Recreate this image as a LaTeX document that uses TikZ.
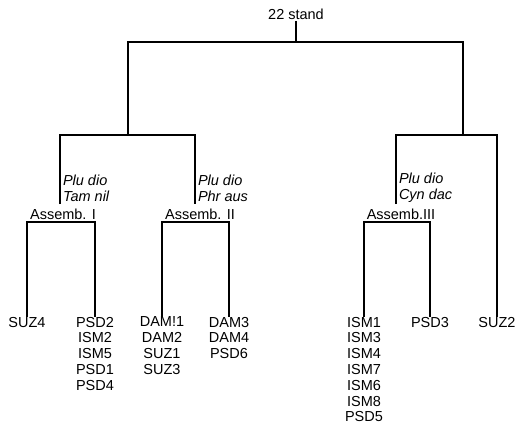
\documentclass[tikz,border=0pt]{standalone}
\usepackage{fontspec}
\setmainfont{Liberation Sans}
\begin{document}
\begin{tikzpicture}[x=1pt,y=-1pt,
  every node/.style={font=\fontsize{14.5}{15.8}\selectfont, inner sep=0pt, outer sep=0pt},
  lab/.style={align=center},
  leaf/.style={align=center, anchor=north},
  tax/.style={align=left, anchor=west, font=\fontsize{14.5}{15.8}\selectfont\itshape},
  edge/.style={draw=black, line width=1.2pt}]
\useasboundingbox (0,0) rectangle (518,426);
% root
\node[lab, outer sep=1.5pt] (root) at (296,14) {22 stand};
\coordinate (top) at (296,42);
\coordinate (jA) at (128,135);
\coordinate (jB) at (463,135);
% assemblages
\node[lab] (asI) at (63,214) {Assemb. I};
\node[lab] (asII) at (200,214) {Assemb. II};
\node[lab] (asIII) at (401,214) {Assemb.III};
\coordinate (tI) at (60,204);
\coordinate (tII) at (195,204);
\coordinate (tIII) at (396,204);
\coordinate (bI) at (60,222);
\coordinate (bII) at (195,222);
\coordinate (bIII) at (396,222);
% indicator species
\node[tax] (spI) at (63,188) {Plu dio\\Tam nil};
\node[tax] (spII) at (198,188) {Plu dio\\Phr aus};
\node[tax] (spIII) at (399,188) {Plu dio\\Cyn dac};
% leaves
\node[leaf] (suz4) at (27,317) {SUZ4};
\node[leaf] (psd2) at (95,317) {PSD2\\ISM2\\ISM5\\PSD1\\PSD4};
\node[leaf] (dam1) at (162,317) {DAM!1\\DAM2\\SUZ1\\SUZ3};
\node[leaf] (dam3) at (229,317) {DAM3\\DAM4\\PSD6};
\node[leaf] (ism1) at (364,317) {ISM1\\ISM3\\ISM4\\ISM7\\ISM6\\ISM8\\PSD5};
\node[leaf] (psd3) at (430,317) {PSD3};
\node[leaf] (suz2) at (497,317) {SUZ2};
% connectors
\draw[edge] (root.south) -- (top);
\draw[edge] (jA) |- (top) -| (jB);
\draw[edge] (tI) |- (jA) -| (tII);
\draw[edge] (tIII) |- (jB) -| (suz2.north);
\draw[edge] (suz4.north) |- (bI) -| (psd2.north);
\draw[edge] (dam1.north) |- (bII) -| (dam3.north);
\draw[edge] (ism1.north) |- (bIII) -| (psd3.north);
\end{tikzpicture}
\end{document}
